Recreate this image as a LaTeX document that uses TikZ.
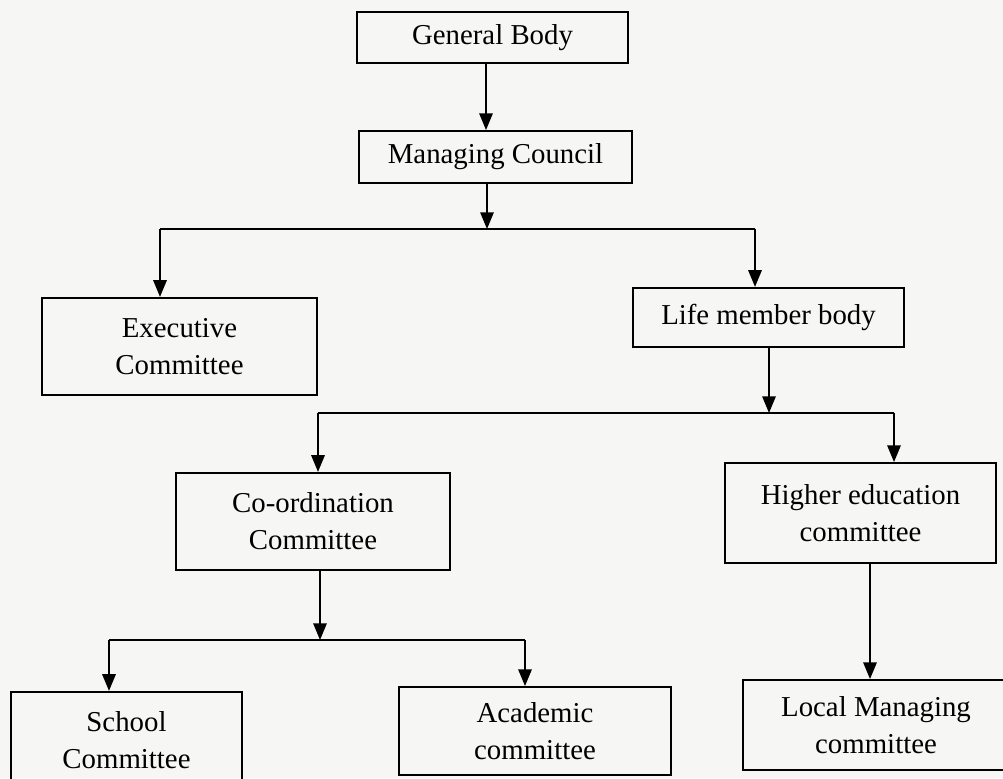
\documentclass[tikz,border=0pt]{standalone}
\usepackage{fontspec}
\setmainfont{Liberation Serif}
\usetikzlibrary{arrows.meta}
\definecolor{paper}{HTML}{F6F6F4}
\tikzstyle{l2}=[line width=0.8pt]
\tikzstyle{box}=[rectangle, draw=black, l2, align=center, inner sep=2pt, font=\fontsize{12.3}{15.8}\selectfont]
\tikzstyle{arr}=[l2, -{Triangle[length=2.5mm, width=2mm]}]

\begin{document}
\begin{tikzpicture}[x=0.015cm, y=-0.015cm]
    \path[fill=paper] (0,0) rectangle (1003,778);
    \useasboundingbox (0,0) rectangle (1003,778);

    % top of the chart
    \node (gb) [box, minimum width=4.07cm, minimum height=0.77cm] at (492.5,37.5) {General Body};
    \node (mc) [box, minimum width=4.1cm, minimum height=0.78cm] at (495.5,157) {Managing Council};
    \node (ec) [box, minimum width=4.13cm, minimum height=1.46cm] at (179.5,346.5) {Executive\\Committee};
    \node (lmb) [box, minimum width=4.07cm, minimum height=0.89cm] at (768.5,317.5) {Life member body};

    % middle
    \node (cc) [box, minimum width=4.11cm, minimum height=1.46cm] at (313,521.5) {Co-ordination\\Committee};
    \node (hec) [box, minimum width=4.07cm, minimum height=1.5cm] at (860.5,513) {Higher education\\committee};

    % bottom row
    \node (sc) [box, minimum width=3.47cm, minimum height=1.46cm] at (126.5,740.5) {School\\Committee};
    \node (ac) [box, minimum width=4.08cm, minimum height=1.32cm] at (535,731) {Academic\\committee};
    \node (lmc) [box, minimum width=3.98cm, minimum height=1.35cm] at (876,725) {Local Managing\\committee};

    \coordinate (t1) at (486,100);
    \coordinate (j1) at (487,229);
    \coordinate (b1l) at (160,229);
    \coordinate (b1r) at (755,229);
    \coordinate (j2) at (769,413);
    \coordinate (b2l) at (318,413);
    \coordinate (b2r) at (894,413);
    \coordinate (j3) at (320,640);
    \coordinate (b3l) at (109,640);
    \coordinate (b3r) at (525,640);
    \coordinate (t4) at (870,600);

    \draw[arr] (gb.south -| t1) -- (t1 |- mc.north);
    \draw[arr] (mc.south -| j1) -- (j1);
    \draw[l2] (b1l) -- (b1r);
    \draw[arr] (b1l) -- (b1l |- ec.north);
    \draw[arr] (b1r) -- (b1r |- lmb.north);

    \draw[arr] (lmb.south -| j2) -- (j2);
    \draw[l2] (b2l) -- (b2r);
    \draw[arr] (b2l) -- (b2l |- cc.north);
    \draw[arr] (b2r) -- (b2r |- hec.north);

    \draw[arr] (cc.south -| j3) -- (j3);
    \draw[l2] (b3l) -- (b3r);
    \draw[arr] (b3l) -- (b3l |- sc.north);
    \draw[arr] (b3r) -- (b3r |- ac.north);
    \draw[arr] (hec.south -| t4) -- (t4 |- lmc.north);
\end{tikzpicture}
\end{document}
